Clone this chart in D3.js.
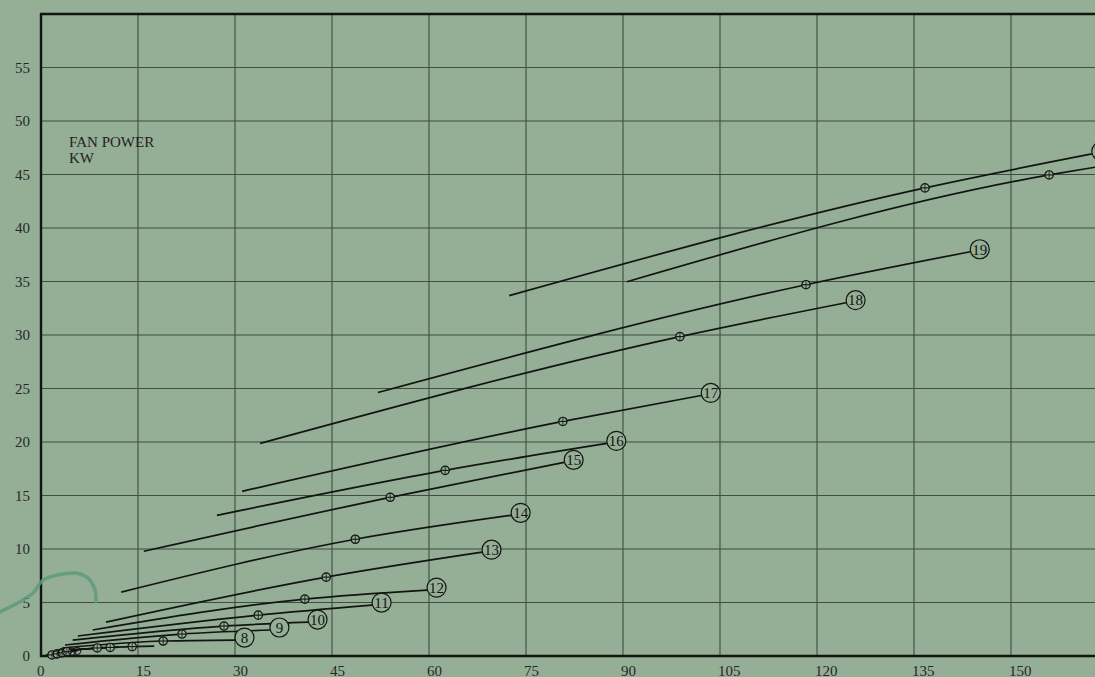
<!DOCTYPE html>
<html>
<head>
<meta charset="utf-8">
<script src="https://cdn.jsdelivr.net/npm/d3@7"></script>
<style>
  html, body { margin: 0; padding: 0; background: #95ae96; }
  svg { display: block; }
  text { font-family: "Liberation Serif", "DejaVu Serif", serif; }
</style>
</head>
<body>
<svg id="chart" width="1095" height="677"></svg>
<script>
// Fan power curves: one line per fan size, from the lowest airflow to the
// largest, with the recommended duty point marked along the way.
const fanSizes   = [1, 2, 3, 4, 5, 6, 7, 8, 9, 10, 11, 12, 13, 14, 15, 16, 17, 18, 19, 20, 21];
const flowStart  = [0.5, 0.8, 1.1, 1.4, 1.9, 2.2, 2.6, 3.25, 3.7, 4.9, 5.7, 8.0, 10.05, 12.4, 15.9, 27.2, 31.1, 33.9, 52.1, 72.4, 90.6];
const powerStart = [0.02, 0.05, 0.1, 0.15, 0.3, 0.4, 0.5, 0.75, 1.03, 1.49, 1.87, 2.43, 3.17, 5.97, 9.79, 13.15, 15.39, 19.87, 24.63, 33.68, 34.98];
const flowDuty   = [1.7, 2.5, 3.25, 4.0, 8.7, 10.7, 14.1, 18.9, 21.8, 28.3, 33.6, 40.8, 44.1, 48.6, 54.0, 62.5, 80.7, 98.8, 118.3, 136.7, 155.9];
const powerDuty  = [0.1, 0.2, 0.3, 0.4, 0.75, 0.8, 0.88, 1.40, 2.05, 2.80, 3.82, 5.32, 7.37, 10.91, 14.83, 17.35, 21.92, 29.85, 34.70, 43.75, 44.96];
const flowEnd    = [2.4, 3.2, 4.8, 5.6, 9.6, 12.0, 17.5, 30.0, 35.4, 41.3, 51.2, 59.7, 68.2, 72.7, 80.9, 87.5, 102.1, 124.5, 143.7, 162.5, 163.2];
const powerEnd   = [0.14, 0.26, 0.4, 0.48, 0.78, 0.83, 0.93, 1.49, 2.43, 3.17, 4.76, 6.16, 9.70, 13.15, 18.10, 19.87, 24.35, 33.02, 37.78, 46.92, 45.7];

const xTicks = [0, 15, 30, 45, 60, 75, 90, 105, 120, 135, 150, 165];
const yTicks = [0, 5, 10, 15, 20, 25, 30, 35, 40, 45, 50, 55];
const axisTitle = ["FAN POWER", "KW"];

// pen stroke across the left margin
const penFlow  = [-6.34, -3.25, -1.24, 0.31, 2.47, 5.57, 7.27, 8.35, 8.5];
const penPower = [4.13, 5.07, 5.88, 7.09, 7.56, 7.74, 7.28, 6.16, 5.07];

const W = 1095, H = 677;
const bg = "#95ae96";
const ink = "#121512";
const svg = d3.select("#chart");
svg.append("rect").attr("width", W).attr("height", H).attr("fill", bg);

const x = d3.scaleLinear().domain([0, 150]).range([41, 1011]);
const y = d3.scaleLinear().domain([0, 60]).range([656, 14]);

// grid
const grid = svg.append("g").attr("stroke", "#3e4d40").attr("stroke-width", 1.1);
grid.selectAll("line.v").data(xTicks.filter(d => d > 0)).join("line")
  .attr("x1", d => x(d)).attr("x2", d => x(d))
  .attr("y1", y(60)).attr("y2", y(0));
grid.selectAll("line.h").data(yTicks.filter(d => d > 0)).join("line")
  .attr("x1", x(0)).attr("x2", W)
  .attr("y1", d => y(d)).attr("y2", d => y(d));

// frame: left axis, base line and top border
const frame = svg.append("g").attr("stroke", ink).attr("stroke-width", 2.4);
frame.append("line").attr("x1", x(0)).attr("x2", x(0)).attr("y1", y(60) - 1).attr("y2", y(0) + 1);
frame.append("line").attr("x1", x(0) - 1).attr("x2", W).attr("y1", y(0)).attr("y2", y(0));
frame.append("line").attr("x1", x(0) - 1).attr("x2", W).attr("y1", y(60)).attr("y2", y(60));

// tick labels
svg.append("g").selectAll("text").data(yTicks).join("text")
  .attr("x", 30).attr("y", d => y(d)).attr("dy", "0.35em")
  .attr("text-anchor", "end").attr("font-size", 15).attr("fill", "#262926")
  .text(d => d);
svg.append("g").selectAll("text").data(xTicks).join("text")
  .attr("x", d => x(d) - (d === 0 ? 4 : 2)).attr("y", 675.5)
  .attr("text-anchor", "start").attr("font-size", 15).attr("fill", "#262926")
  .text(d => d);

// axis title
svg.append("g").selectAll("text").data(axisTitle).join("text")
  .attr("x", 69).attr("y", (d, i) => 147 + i * 16)
  .attr("font-size", 15).attr("fill", "#1f231f")
  .text(d => d);

// pen stroke
svg.append("path")
  .datum(penFlow.map((f, i) => [f, penPower[i]]))
  .attr("fill", "none").attr("stroke", "#5f9a7c").attr("stroke-width", 3.5)
  .attr("stroke-linecap", "round").attr("opacity", 0.85)
  .attr("d", d3.line().x(d => x(d[0])).y(d => y(d[1])).curve(d3.curveCatmullRom));

// fan curves
const fans = fanSizes.map((s, i) => ({
  size: s,
  pts: [[flowStart[i], powerStart[i]], [flowDuty[i], powerDuty[i]], [flowEnd[i], powerEnd[i]]],
  duty: [flowDuty[i], powerDuty[i]],
  end: [flowEnd[i], powerEnd[i]]
}));

const line = d3.line().x(d => x(d[0])).y(d => y(d[1])).curve(d3.curveMonotoneX);
svg.append("g").selectAll("path").data(fans).join("path")
  .attr("d", d => line(d.pts))
  .attr("fill", "none").attr("stroke", ink).attr("stroke-width", 1.7);

// duty point markers
const mk = svg.append("g").selectAll("g").data(fans).join("g")
  .attr("transform", d => `translate(${x(d.duty[0])},${y(d.duty[1])})`);
mk.append("circle").attr("r", 4.2).attr("fill", bg).attr("stroke", ink).attr("stroke-width", 1.2);
mk.append("line").attr("x1", -4.2).attr("x2", 4.2).attr("stroke", ink).attr("stroke-width", 1.1);
mk.append("line").attr("y1", -4.2).attr("y2", 4.2).attr("stroke", ink).attr("stroke-width", 0.8);

// small end rings on the smallest sizes
svg.append("g").selectAll("circle").data(fans.filter(d => d.size <= 4)).join("circle")
  .attr("cx", d => x(d.end[0])).attr("cy", d => y(d.end[1])).attr("r", 3.6)
  .attr("fill", "none").attr("stroke", ink).attr("stroke-width", 1);

// numbered size tags at the end of each curve; a tag that would collide
// with a neighbouring one is pushed below it
const tagR = 9.5;
const tagged = fans.filter(d => d.size >= 8).map(d => ({
  size: d.size, tx: x(d.end[0]) + tagR, ty: y(d.end[1]) - 2.5
}));
tagged.forEach((t, i) => {
  tagged.forEach((o, j) => {
    if (j < i && Math.abs(o.tx - t.tx) < 2 * tagR && Math.abs(o.ty - t.ty) < 2.3 * tagR) {
      t.ty = o.ty + 2.5 * tagR;
    }
  });
});
const tag = svg.append("g").selectAll("g").data(tagged).join("g")
  .attr("transform", d => `translate(${d.tx},${d.ty})`);
tag.append("circle").attr("r", tagR).attr("fill", bg).attr("stroke", ink).attr("stroke-width", 1.2);
tag.append("text").attr("text-anchor", "middle").attr("dy", "0.35em")
  .attr("font-size", 15).attr("fill", ink).text(d => d.size);
</script>
</body>
</html>
